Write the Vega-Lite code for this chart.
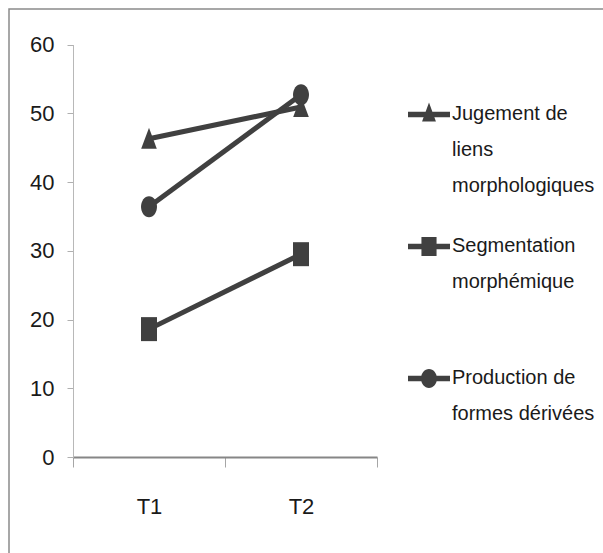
{
  "$schema": "https://vega.github.io/schema/vega-lite/v6.json",
  "width": 600,
  "height": 560,
  "autosize": "none",
  "padding": {"left": 9, "top": 9, "right": 0, "bottom": 0},
  "background": "white",
  "config": {
    "view": {"stroke": "#8a8a8a", "strokeWidth": 1.5},
    "font": "Liberation Sans"
  },
  "data": {
    "values": [
      {"t": "T1", "serie": "Jugement de liens morphologiques", "v": 46.3},
      {"t": "T2", "serie": "Jugement de liens morphologiques", "v": 50.9},
      {"t": "T1", "serie": "Segmentation morphémique", "v": 18.6},
      {"t": "T2", "serie": "Segmentation morphémique", "v": 29.5},
      {"t": "T1", "serie": "Production de formes dérivées", "v": 36.4},
      {"t": "T2", "serie": "Production de formes dérivées", "v": 52.7}
    ]
  },
  "encoding": {
    "x": {
      "field": "t",
      "type": "nominal",
      "bandPosition": 0.5,
      "scale": {"type": "band", "paddingInner": 0, "paddingOuter": 0, "range": [64, 368]},
      "axis": {
        "title": null,
        "labelAngle": 0,
        "tickBand": "extent",
        "tickSize": 10,
        "tickColor": "#a6a6a6",
        "domainColor": "#868686",
        "domainWidth": 2,
        "labelFontSize": 22,
        "labelColor": "#1a1a1a",
        "labelPadding": 29,
        "offset": -112,
        "grid": false
      }
    },
    "y": {
      "field": "v",
      "type": "quantitative",
      "scale": {"domain": [0, 60], "range": [448, 35.5], "nice": false},
      "axis": {
        "title": null,
        "values": [0, 10, 20, 30, 40, 50, 60],
        "tickSize": 6,
        "tickColor": "#b0b0b0",
        "domainColor": "#b8b8b8",
        "labelFontSize": 22,
        "labelColor": "#1a1a1a",
        "labelPadding": 13,
        "offset": -64,
        "grid": false
      }
    }
  },
  "layer": [
    {
      "mark": {"type": "point", "filled": true, "color": "#404040", "opacity": 1, "size": 0},
      "encoding": {
        "shape": {
          "field": "serie",
          "type": "nominal",
          "scale": {
            "domain": ["Jugement de liens morphologiques", "Segmentation morphémique", "Production de formes dérivées"],
            "range": [
              "M-1,0.37H1V0.63H-1Z M-0.33,0.83L0,-0.07L0.33,0.83Z",
              "M-1,0.37H1V0.63H-1Z M-0.36,0.05H0.36V0.95H-0.36Z",
              "M-1,0.37H1V0.63H-1Z M-0.38,0.5A0.38,0.45 0 1 1 0.38,0.5A0.38,0.45 0 1 1 -0.38,0.5Z"
            ]
          },
          "legend": {
            "title": null,
            "orient": "none",
            "legendX": 399,
            "legendY": 74,
            "symbolSize": 1764,
            "symbolFillColor": "#404040",
            "symbolStrokeWidth": 0,
            "symbolOpacity": 1,
            "labelFontSize": 20,
            "labelColor": "#1a1a1a",
            "labelLimit": 400,
            "labelOffset": 2,
            "labelBaseline": "top",
            "rowPadding": 19,
            "labelExpr": "datum.label == 'Jugement de liens morphologiques' ? ['Jugement de', 'liens', 'morphologiques'] : datum.label == 'Segmentation morphémique' ? ['Segmentation', 'morphémique', ' '] : ['Production de', 'formes dérivées']",
            "encoding": {
              "labels": {"lineHeight": {"value": 36}}
            }
          }
        }
      }
    },
    {
      "mark": {"type": "line", "color": "#404040", "strokeWidth": 5},
      "encoding": {"detail": {"field": "serie", "type": "nominal"}}
    },
    {
      "mark": {"type": "point", "filled": true, "color": "#404040", "opacity": 1, "size": 400},
      "encoding": {
        "shape": {
          "field": "serie",
          "type": "nominal",
          "scale": {
            "domain": ["Jugement de liens morphologiques", "Segmentation morphémique", "Production de formes dérivées"],
            "range": [
              "M0,-1.1L0.78,1L-0.78,1Z",
              "M-0.8,-1.2H0.8V1.2H-0.8Z",
              "M-0.8,0A0.8,1.05 0 1 0 0.8,0A0.8,1.05 0 1 0 -0.8,0Z"
            ]
          },
          "legend": null
        }
      }
    }
  ],
  "resolve": {"scale": {"shape": "independent"}, "legend": {"shape": "independent"}}
}
